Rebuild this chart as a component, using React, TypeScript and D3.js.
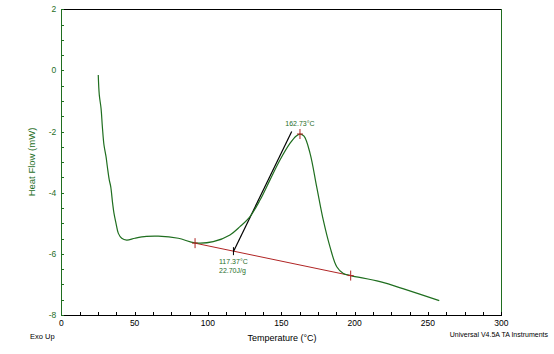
import { useEffect, useRef } from 'react';
import * as d3 from 'd3';

// DSC curve
const temps = [25.2, 25.9, 27.1, 28.0, 29.1, 30.5, 31.4, 32.7, 33.7, 35.0, 35.9, 37.3, 38.9, 41.2, 44.6, 50.2, 58, 66.1, 79.8, 91.2, 103.6, 115, 121.8, 128.7, 135.5, 142.3, 149.1, 156, 160, 162.7, 165.5, 169.6, 174.1, 178.6, 183.2, 187.8, 192.3, 197.3, 217.3, 235.5, 257.7];
const heatFlow = [-0.15, -0.8, -1.24, -1.84, -2.44, -2.82, -3.15, -3.58, -3.8, -4.35, -4.67, -5.0, -5.33, -5.49, -5.55, -5.49, -5.43, -5.42, -5.49, -5.64, -5.6, -5.38, -5.11, -4.78, -4.24, -3.58, -2.93, -2.38, -2.15, -2.08, -2.15, -2.71, -3.8, -4.89, -5.77, -6.42, -6.64, -6.71, -6.91, -7.18, -7.53];

const baselineT = [91.2, 197.3];
const baselineV = [-5.65, -6.71];
const tangentT = [117.4, 157.1];
const tangentV = [-5.92, -2.0];
const peakT = 162.73;
const peakV = -2.08;
const onsetT = 117.37;

const xTicks = [0, 50, 100, 150, 200, 250, 300];
const yTicks = [2, 0, -2, -4, -6, -8];

const GREEN = '#1f6e1f';
const RED = '#b02424';
const FONT = 'Liberation Sans, Arial, sans-serif';

function App() {
  const ref = useRef<SVGSVGElement>(null);

  useEffect(() => {
    drawChart();
    // eslint-disable-next-line
  }, []);

  function drawChart() {
    const config = { left: 61.3, right: 501.3, top: 9.3, bottom: 315 };
    const svg = d3.select(ref.current);
    svg.selectAll('*').remove();

    const xScale = d3.scaleLinear().domain([0, 300]).range([config.left, config.right]);
    const yScale = d3.scaleLinear().domain([-8, 2]).range([config.bottom, config.top]);

    // frame: top black, right green
    svg.append('line')
      .attr('x1', config.left).attr('x2', config.right)
      .attr('y1', config.top).attr('y2', config.top)
      .attr('stroke', '#000').attr('stroke-width', 1.3).attr('shape-rendering', 'crispEdges');
    svg.append('line')
      .attr('x1', config.right).attr('x2', config.right)
      .attr('y1', config.top).attr('y2', config.bottom)
      .attr('stroke', GREEN).attr('shape-rendering', 'crispEdges');

    // x axis (black, ticks inward)
    const xAxis = d3.axisBottom(xScale)
      .tickValues(d3.range(0, 300.1, 12.5))
      .tickSize(-3)
      .tickSizeOuter(0)
      .tickFormat(() => '');
    const gx = svg.append('g')
      .attr('transform', `translate(0,${config.bottom})`)
      .call(xAxis);
    gx.select('.domain').attr('stroke', '#000').attr('shape-rendering', 'crispEdges');
    gx.selectAll('line').attr('stroke', '#000').attr('shape-rendering', 'crispEdges');
    svg.append('g').selectAll('text').data(xTicks).join('text')
      .attr('x', d => xScale(d))
      .attr('y', config.bottom + 11)
      .attr('text-anchor', 'middle')
      .attr('font-family', FONT).attr('font-size', 8.5)
      .attr('fill', '#000')
      .text(d => d);

    // y axis (green, ticks inward)
    const yAxis = d3.axisLeft(yScale)
      .tickValues(d3.range(-8, 2.01, 0.5))
      .tickSize(-3)
      .tickSizeOuter(0)
      .tickFormat(() => '');
    const gy = svg.append('g')
      .attr('transform', `translate(${config.left},0)`)
      .call(yAxis);
    gy.select('.domain').attr('stroke', GREEN).attr('shape-rendering', 'crispEdges');
    gy.selectAll('line').attr('stroke', GREEN).attr('shape-rendering', 'crispEdges');
    svg.append('g').selectAll('text').data(yTicks).join('text')
      .attr('x', config.left - 5)
      .attr('y', d => yScale(d) + 3)
      .attr('text-anchor', 'end')
      .attr('font-family', FONT).attr('font-size', 8.5)
      .attr('fill', GREEN)
      .text(d => d);

    // axis titles
    svg.append('text')
      .attr('transform', `translate(35,162) rotate(-90)`)
      .attr('text-anchor', 'middle')
      .attr('font-family', FONT).attr('font-size', 9.5)
      .attr('fill', GREEN)
      .text('Heat Flow (mW)');
    svg.append('text')
      .attr('x', 282).attr('y', 341)
      .attr('text-anchor', 'middle')
      .attr('font-family', FONT).attr('font-size', 9)
      .attr('fill', '#000')
      .text('Temperature (°C)');
    svg.append('text')
      .attr('x', 30).attr('y', 339)
      .attr('font-family', FONT).attr('font-size', 7.5)
      .attr('fill', '#000')
      .text('Exo Up');
    svg.append('text')
      .attr('x', 548).attr('y', 337)
      .attr('text-anchor', 'end')
      .attr('font-family', FONT).attr('font-size', 7)
      .attr('fill', '#000')
      .text('Universal V4.5A TA Instruments');

    // baseline
    const line = d3.line<number>()
      .x(i => xScale(baselineT[i]))
      .y(i => yScale(baselineV[i]));
    svg.append('path')
      .attr('d', line([0, 1]))
      .attr('fill', 'none').attr('stroke', RED).attr('stroke-width', 1);

    // tangent
    const tline = d3.line<number>()
      .x(i => xScale(tangentT[i]))
      .y(i => yScale(tangentV[i]));
    svg.append('path')
      .attr('d', tline([0, 1]))
      .attr('fill', 'none').attr('stroke', '#000').attr('stroke-width', 1.2);

    // curve
    const curve = d3.line<number>()
      .x(i => xScale(temps[i]))
      .y(i => yScale(heatFlow[i]))
      .curve(d3.curveCatmullRom.alpha(0.5));
    svg.append('path')
      .attr('d', curve(d3.range(temps.length)))
      .attr('fill', 'none').attr('stroke', GREEN).attr('stroke-width', 1.2);

    // markers
    const crosses = [
      { t: baselineT[0], v: baselineV[0], c: RED },
      { t: baselineT[1], v: baselineV[1], c: RED },
      { t: peakT, v: peakV, c: RED },
    ];
    crosses.forEach(m => {
      const cx = xScale(m.t), cy = yScale(m.v);
      svg.append('line').attr('x1', cx).attr('x2', cx).attr('y1', cy - 5).attr('y2', cy + 5)
        .attr('stroke', m.c);
      svg.append('line').attr('x1', cx - 3).attr('x2', cx + 3).attr('y1', cy).attr('y2', cy)
        .attr('stroke', m.c);
    });
    const ox = xScale(onsetT);
    const oy = yScale(baselineV[0] + (onsetT - baselineT[0]) * (baselineV[1] - baselineV[0]) / (baselineT[1] - baselineT[0]));
    svg.append('line').attr('x1', ox).attr('x2', ox).attr('y1', oy - 4).attr('y2', oy + 4)
      .attr('stroke', '#000');

    // annotations
    svg.append('text')
      .attr('x', xScale(peakT)).attr('y', yScale(peakV) - 8)
      .attr('text-anchor', 'middle')
      .attr('font-family', FONT).attr('font-size', 7)
      .attr('fill', GREEN)
      .text(`${peakT}°C`);
    svg.append('text')
      .attr('x', 219).attr('y', 264)
      .attr('font-family', FONT).attr('font-size', 7)
      .attr('fill', GREEN)
      .text(`${onsetT}°C`);
    svg.append('text')
      .attr('x', 219).attr('y', 273)
      .attr('font-family', FONT).attr('font-size', 7)
      .attr('fill', GREEN)
      .text('22.70J/g');
  }

  return (
    <svg ref={ref} width={554} height={354}
      style={{ position: 'absolute', left: 0, top: 0, background: '#fff' }} />
  );
}

export default App;
